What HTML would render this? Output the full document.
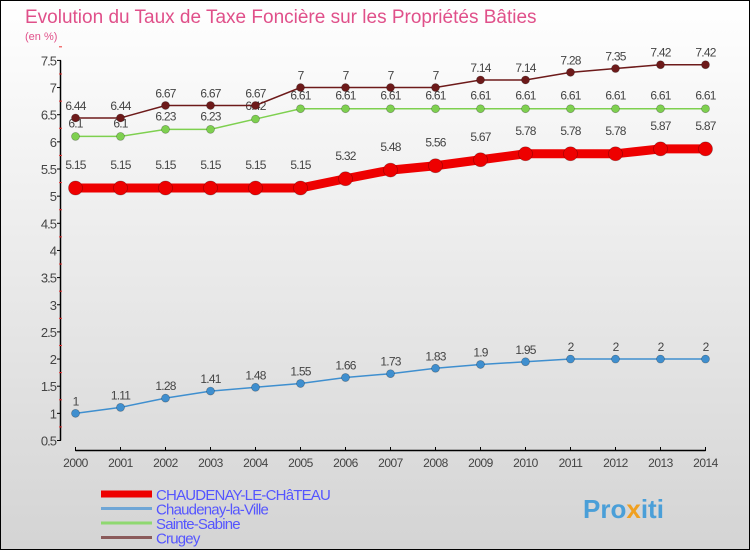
<!DOCTYPE html>
<html><head><meta charset="utf-8"><style>
body{margin:0}
#c{width:748px;height:548px;border:1px solid #000;background:linear-gradient(#fff,#d4d4d4);position:relative;font-family:"Liberation Sans",sans-serif;overflow:hidden}
</style></head><body>
<div id="c">
<svg width="748" height="548" id="svg" style="position:absolute;left:0;top:0">
<text x="24" y="22" font-size="19" fill="#e0508a">Evolution du Taux de Taxe Foncière sur les Propriétés Bâties</text>
<text x="24" y="39" font-size="11" fill="#e0508a">(en %)</text>
<g id="axes"></g><g id="series"></g><g id="legend"></g>
<text x="582" y="517" font-size="26" font-weight="bold" fill="#4a9fd8">Pro<tspan fill="#f0a020">x</tspan>iti</text>
</svg>
</div>
<script>
const years=[2000,2001,2002,2003,2004,2005,2006,2007,2008,2009,2010,2011,2012,2013,2014];
const chaudenayChateau=[5.15,5.15,5.15,5.15,5.15,5.15,5.32,5.48,5.56,5.67,5.78,5.78,5.78,5.87,5.87];
const chaudenayVille=[1,1.11,1.28,1.41,1.48,1.55,1.66,1.73,1.83,1.9,1.95,2,2,2,2];
const sainteSabine=[6.1,6.1,6.23,6.23,6.42,6.61,6.61,6.61,6.61,6.61,6.61,6.61,6.61,6.61,6.61];
const crugey=[6.44,6.44,6.67,6.67,6.67,7,7,7,7,7.14,7.14,7.28,7.35,7.42,7.42];
const yTicks=[0.5,1,1.5,2,2.5,3,3.5,4,4.5,5,5.5,6,6.5,7,7.5];
const NS="http://www.w3.org/2000/svg";
const xS=i=>74.5+i*45;
const yS=v=>439.5-(v-0.5)*54.3;
function mk(tag,attrs,parent,text){const e=document.createElementNS(NS,tag);for(const k in attrs)e.setAttribute(k,attrs[k]);if(text!==undefined)e.textContent=text;parent.appendChild(e);return e;}
const ax=document.getElementById('axes');
let e=mk('line',{x1:59.5,y1:yS(7.5),x2:59.5,y2:yS(0.5),stroke:'#000','stroke-width':1.5},ax);


e=mk('line',{x1:xS(0),y1:449.5,x2:xS(14),y2:449.5,stroke:'#000','stroke-width':1.5},ax);


yTicks.forEach(v=>{
 mk('line',{x1:56,x2:60,y1:yS(v),y2:yS(v),stroke:'#000'},ax);
 mk('line',{x1:58,x2:61,y1:yS(v+0.25),y2:yS(v+0.25),stroke:'#e33'},ax);
 const t=mk('text',{x:55,y:yS(v)+5,'font-size':13,'text-anchor':'end',fill:'#444','letter-spacing':'-1'},ax,String(v));
 
 
});
years.forEach((y,i)=>{
 mk('line',{x1:xS(i),x2:xS(i),y1:446,y2:450,stroke:'#000'},ax);
 const t=mk('text',{x:xS(i),y:466,'font-size':12,'text-anchor':'middle',fill:'#444','letter-spacing':'-0.5'},ax,String(y));
 
 
});
const sg=document.getElementById('series');
function series(data,color,lw,r,name,lbl){
 const g=mk('g',{},sg);
 
 
 const p=mk('polyline',{points:data.map((v,i)=>xS(i)+','+yS(v)).join(' '),fill:'none',stroke:color,'stroke-width':lw},g);
 data.forEach((v,i)=>{
  const c=mk('circle',{cx:xS(i),cy:yS(v),r:r,fill:color,stroke:'rgba(0,0,0,0.3)','stroke-width':0.7},g);
  
  
  const t=mk('text',{x:xS(i),y:yS(v)-lbl,'font-size':12,'text-anchor':'middle',fill:'#444','letter-spacing':'-0.8'},g,String(v));
  
  
 });
}
series(chaudenayVille,'#3f8fcf',1.5,4,'series-chaudenay-la-ville',8);
series(sainteSabine,'#7ed04f',1.5,4,'series-sainte-sabine',9);
series(crugey,'#6d1a1a',1.5,4,'series-crugey',8);
series(chaudenayChateau,'#ee0000',9,7,'series-chaudenay-le-chateau',19);
const lg=document.getElementById('legend');
const leg=[['CHAUDENAY-LE-CHâTEAU','#ee0000',7],['Chaudenay-la-Ville','#6fa6d6',3],['Sainte-Sabine','#8fd870',3],['Crugey','#8a5a5a',3]];
leg.forEach((l,i)=>{
 const y=493+i*14.5;
 const g=mk('g',{},lg);
 
 
 mk('line',{x1:100,x2:151,y1:y,y2:y,stroke:l[1],'stroke-width':l[2]},g);
 mk('text',{x:155,y:y+6,'font-size':15,fill:'#5555ff','letter-spacing':'-0.8'},g,l[0]);
});
</script>
</body></html>
